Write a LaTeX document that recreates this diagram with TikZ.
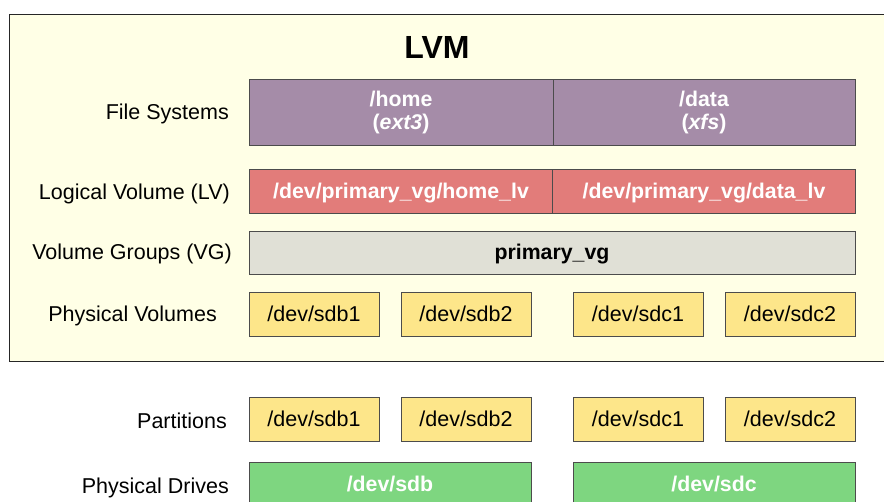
\documentclass[tikz,border=0pt]{standalone}
\usepackage{fontspec}
\setmainfont{Liberation Sans}
\definecolor{lvmcream}{HTML}{FFFFE6}
\definecolor{fspurple}{HTML}{A58CA8}
\definecolor{lvred}{HTML}{E27C7A}
\definecolor{vggrey}{HTML}{E0E0D6}
\definecolor{pvyellow}{HTML}{FDE68A}
\definecolor{drvgreen}{HTML}{7ED680}
\begin{document}
\begin{tikzpicture}[x=1pt, y=-1pt,
    box/.style={draw=black!70, line width=0.8pt, inner sep=0pt},
    onerow/.style={text height=15.5pt, text depth=1.5pt},
    fsbox/.style={box, fill=fspurple, minimum height=66pt, text=white, align=center,
      font=\fontsize{21.3}{23}\selectfont\bfseries},
    lvbox/.style={box, onerow, fill=lvred, minimum width=303pt, minimum height=44pt, text=white,
      font=\fontsize{21.3}{24}\selectfont\bfseries},
    vgbox/.style={box, onerow, fill=vggrey, minimum width=606pt, minimum height=43pt,
      font=\fontsize{21.3}{24}\selectfont\bfseries},
    partbox/.style={box, onerow, fill=pvyellow, minimum width=130pt, minimum height=44pt,
      font=\fontsize{21.5}{24}\selectfont},
    drivebox/.style={box, onerow, fill=drvgreen, minimum width=282pt, minimum height=44pt, text=white,
      font=\fontsize{21.3}{24}\selectfont\bfseries},
    rowlabel/.style={anchor=east, inner sep=0pt, font=\fontsize{21.5}{24}\selectfont}]
    \useasboundingbox (0,0) rectangle (884,501);
    \clip (0,0) rectangle (884,501);

    % LVM frame
    \draw[black!85, line width=1pt, fill=lvmcream] (9,14) rectangle (900,361);
    \node[font=\fontsize{32}{36}\selectfont\bfseries] (title) at (437,47) {LVM};

    % File systems
    \node[fsbox, minimum width=304pt] (home) at (401,112) {/home\\(\textit{ext3})};
    \node[fsbox, minimum width=302pt] (data) at (704,112) {/data\\(\textit{xfs})};

    % Logical volumes
    \node[lvbox] (homelv) at (401,191) {/dev/primary\_vg/home\_lv};
    \node[lvbox] (datalv) at (704,191) {/dev/primary\_vg/data\_lv};

    % Volume group
    \node[vgbox] (vg) at (552,252.5) {primary\_vg};

    % Physical volumes
    \node[partbox] (pvsdbA) at (314,314) {/dev/sdb1};
    \node[partbox] (pvsdbB) at (466,314) {/dev/sdb2};
    \node[partbox] (pvsdcA) at (638,314) {/dev/sdc1};
    \node[partbox] (pvsdcB) at (790,314) {/dev/sdc2};

    % Partitions
    \node[partbox] (sdbA) at (314,419) {/dev/sdb1};
    \node[partbox] (sdbB) at (466,419) {/dev/sdb2};
    \node[partbox] (sdcA) at (638,419) {/dev/sdc1};
    \node[partbox] (sdcB) at (790,419) {/dev/sdc2};

    % Drives
    \node[drivebox] (sdb) at (390,484) {/dev/sdb};
    \node[drivebox] (sdc) at (714,484) {/dev/sdc};

    % Labels
    \node[rowlabel] (fslabel) at (229,113.5) {File Systems};
    \node[rowlabel] (lvlabel) at (230,194) {Logical Volume (LV)};
    \node[rowlabel] (vglabel) at (232,254) {Volume Groups (VG)};
    \node[rowlabel] (pvlabel) at (217,315.5) {Physical Volumes};
    \node[rowlabel] (partlabel) at (227,420.5) {Partitions};
    \node[rowlabel] (drvlabel) at (229,488) {Physical Drives};
\end{tikzpicture}
\end{document}
